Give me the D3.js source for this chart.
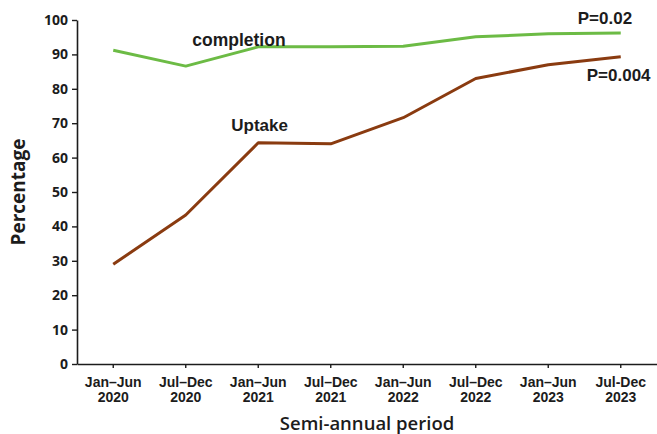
<!DOCTYPE html>
<html>
<head>
<meta charset="utf-8">
<script src="https://cdn.jsdelivr.net/npm/d3@7"></script>
<style>
  html, body { margin: 0; padding: 0; background: #fff; }
  svg { display: block; }
</style>
</head>
<body>
<svg id="chart" width="657" height="434"></svg>
<script>
// Semi-annual periods (two-line tick labels)
const periods = [
  ["Jan\u2013Jun", "2020"],
  ["Jul\u2013Dec", "2020"],
  ["Jan\u2013Jun", "2021"],
  ["Jul\u2013Dec", "2021"],
  ["Jan\u2013Jun", "2022"],
  ["Jul\u2013Dec", "2022"],
  ["Jan\u2013Jun", "2023"],
  ["Jul-Dec", "2023"]
];

// Percentages per period
const completion = [91.2, 86.6, 92.2, 92.2, 92.4, 95.1, 96.0, 96.2];
const uptake = [29.0, 43.3, 64.3, 64.0, 71.6, 83.0, 87.0, 89.3];

const yTicks = [0, 10, 20, 30, 40, 50, 60, 70, 80, 90, 100];

const seriesLabels = { completion: "completion", uptake: "Uptake" };
const pValues = { completion: "P=0.02", uptake: "P=0.004" };

const W = 657, H = 434;
const margin = { top: 20, right: 0, bottom: 70, left: 77 };
const innerH = H - margin.top - margin.bottom; // 344

const svg = d3.select("#chart");
const g = svg.append("g").attr("transform", `translate(${margin.left},${margin.top})`);

const keys = periods.map((p, i) => i);
const x = d3.scaleBand().domain(keys).range([0, W - margin.left - margin.right]);
const y = d3.scaleLinear().domain([0, 100]).range([innerH, 0]);
const cx = i => x(i) + x.bandwidth() / 2;

const armFont = "'Liberation Sans', Arial, sans-serif";
const calFont = "'Open Sans', 'Noto Sans', sans-serif";
const ink = "#1c1c1c";

// Y axis
const yAxis = g.append("g")
  .call(d3.axisLeft(y).tickValues(yTicks).tickSize(5).tickSizeOuter(0).tickPadding(4));
yAxis.select(".domain").attr("stroke", ink).attr("stroke-width", 1.6);
yAxis.selectAll(".tick line").attr("stroke", ink).attr("stroke-width", 1.4);
yAxis.selectAll(".tick text")
  .attr("fill", ink)
  .style("font-family", calFont)
  .style("font-weight", 700)
  .style("font-size", "14px");

// X axis
const xAxis = g.append("g")
  .attr("transform", `translate(0,${innerH})`)
  .call(d3.axisBottom(x).tickSize(4).tickSizeOuter(0).tickFormat(() => ""));
xAxis.select(".domain").attr("stroke", ink).attr("stroke-width", 1.6);
xAxis.selectAll(".tick line").attr("stroke", ink).attr("stroke-width", 1.4);
xAxis.selectAll(".tick text").remove();
xAxis.selectAll(".tick").each(function(d) {
  const t = d3.select(this).append("text")
    .attr("fill", ink)
    .attr("text-anchor", "middle")
    .style("font-family", armFont)
    .style("font-weight", 700)
    .style("font-size", "14px");
  t.append("tspan").attr("x", 0).attr("y", 23).text(periods[d][0]);
  t.append("tspan").attr("x", 0).attr("y", 38).text(periods[d][1]);
});

// Lines
const line = d3.line().x((d, i) => cx(i)).y(d => y(d));
g.append("path").datum(completion)
  .attr("fill", "none").attr("stroke", "#6cbb45").attr("stroke-width", 3)
  .attr("stroke-linejoin", "round").attr("d", line);
g.append("path").datum(uptake)
  .attr("fill", "none").attr("stroke", "#8a3b10").attr("stroke-width", 3)
  .attr("stroke-linejoin", "round").attr("d", line);

// Series labels
const lab = (txt, px, py, size) => svg.append("text")
  .attr("x", px).attr("y", py)
  .attr("fill", ink)
  .style("font-family", armFont)
  .style("font-weight", 700)
  .style("font-size", (size || 17) + "px")
  .text(txt);

lab(seriesLabels.completion, margin.left + cx(2) - 66, margin.top + y(completion[2]) - 1, 17.5);
lab(seriesLabels.uptake, margin.left + cx(2) - 27, margin.top + y(uptake[2]) - 12);
lab(pValues.completion, margin.left + cx(7) - 43, margin.top + y(completion[7]) - 9);
lab(pValues.uptake, margin.left + cx(7) - 34, margin.top + y(uptake[7]) + 24);

// Axis titles
svg.append("text")
  .attr("transform", `translate(25,${margin.top + y(50)}) rotate(-90)`)
  .attr("text-anchor", "middle")
  .attr("fill", ink)
  .style("font-family", calFont)
  .style("font-weight", 700)
  .style("font-size", "19px")
  .text("Percentage");

svg.append("text")
  .attr("x", 367).attr("y", 430)
  .attr("text-anchor", "middle")
  .attr("fill", ink)
  .style("font-family", calFont)
  .style("font-weight", 600)
  .style("font-size", "18.5px")
  .text("Semi-annual period");
</script>
</body>
</html>
